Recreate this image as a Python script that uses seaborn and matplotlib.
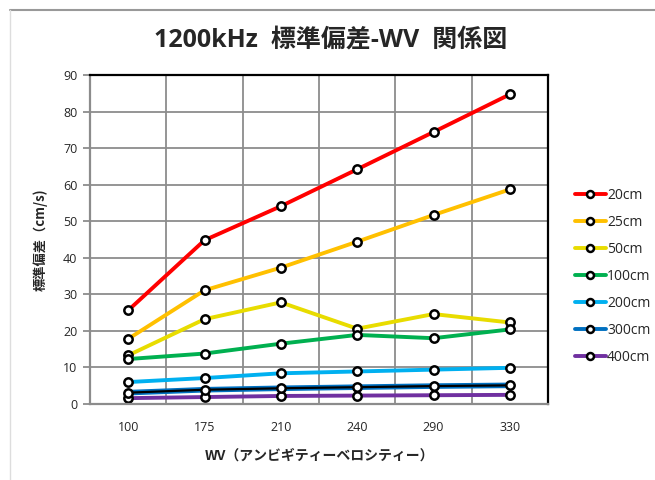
import pandas as pd
import matplotlib.pyplot as plt
from matplotlib.colors import to_rgba
import seaborn as sns

# data
wv = ["100", "175", "210", "240", "290", "330"]
s20 = [25.6, 44.8, 54.1, 64.2, 74.4, 84.7]
s25 = [17.8, 31.1, 37.3, 44.4, 51.7, 58.7]
s50 = [13.3, 23.2, 27.8, 20.6, 24.6, 22.3]
s100 = [12.3, 13.8, 16.5, 18.9, 18.0, 20.4]
s200 = [6.0, 7.1, 8.4, 8.9, 9.4, 9.9]
s300 = [3.1, 3.9, 4.3, 4.6, 4.9, 5.1]
s400 = [1.6, 1.9, 2.2, 2.3, 2.4, 2.5]
series = ["20cm", "25cm", "50cm", "100cm", "200cm", "300cm", "400cm"]
colors = ["#FF0000", "#FFC000", "#E8DC00", "#00B050", "#00B0F0", "#0070C0", "#7030A0"]

rows = []
for name, vals in zip(series, [s20, s25, s50, s100, s200, s300, s400]):
    for x, v in zip(wv, vals):
        rows.append({"WV": x, "std": v, "depth": name})
df = pd.DataFrame(rows)

sns.set_style("white")
plt.rcParams["font.family"] = ["Open Sans", "Noto Sans CJK JP", "DejaVu Sans"]
jp = ["Noto Sans CJK JP", "DejaVu Sans"]

fig = plt.figure(figsize=(6.55, 4.8), dpi=100)
ax = fig.add_axes([90 / 655, 1 - 404 / 480, 458 / 655, 329 / 480])

mk = dict(marker="o", markerfacecolor="white", markeredgecolor="black", markeredgewidth=1.8)
sns.lineplot(data=df, x="WV", y="std", hue="depth", hue_order=series,
             palette=colors, lw=2.8, markersize=6, ax=ax, sort=False, **mk)

# in the plot the 300cm line looks black with a blue rim
blue = to_rgba("#0070C0")
for line in list(ax.lines):
    if len(line.get_xdata()) == len(wv) and to_rgba(line.get_color()) == blue:
        line.set_marker("None")
        line.set_linewidth(4.0)
        z = line.get_zorder()
        ax.plot(range(len(wv)), s300, color="black", lw=1.6, zorder=z + 0.01)
        ax.plot(range(len(wv)), s300, ls="None", markersize=6, zorder=z + 0.02, **mk)

ax.set_xlim(-0.5, 5.5)
ax.set_ylim(0, 90)
ax.set_yticks(range(0, 91, 10))
ax.set_xticks(range(6))
ax.set_xticklabels(wv)
ax.set_xticks([0.5, 1.5, 2.5, 3.5, 4.5], minor=True)
ax.grid(axis="y", which="major", color="#8c8c8c", lw=1.3)
ax.grid(axis="x", which="minor", color="#8c8c8c", lw=1.3)
ax.grid(axis="x", which="major", visible=False)
ax.tick_params(axis="y", which="major", left=True, length=5, color="#8c8c8c",
               width=1.3, labelsize=9, pad=4)
ax.tick_params(axis="x", which="both", bottom=False, labelsize=9, pad=9)

for side in ["top", "right"]:
    ax.spines[side].set_color("black")
    ax.spines[side].set_linewidth(1.6)
for side in ["left", "bottom"]:
    ax.spines[side].set_color("#8c8c8c")
    ax.spines[side].set_linewidth(1.6)

ax.set_xlabel("WV（アンビギティーベロシティー）", fontsize=10, fontweight="bold",
              family=jp, labelpad=10)
ax.set_ylabel("標準偏差（cm/s)", fontsize=9.5, fontweight="bold", family=jp, labelpad=11)

fig.text(0.505, 1 - 40 / 480, "1200kHz  標準偏差-WV  関係図", ha="center", va="center",
         fontsize=18, fontweight="bold", family=["Open Sans", "Noto Sans CJK JP"])

h, l = ax.get_legend_handles_labels()
for hd, c in zip(h, colors):
    hd.set_color(c)
    hd.set_marker("o")
    hd.set_markersize(5)
    hd.set_markerfacecolor("white")
    hd.set_markeredgecolor("black")
    hd.set_markeredgewidth(1.8)
    hd.set_linewidth(2.8)
ax.legend(h, l, loc="upper left", bbox_to_anchor=(568 / 655, 1 - 181 / 480),
          bbox_transform=fig.transFigure, frameon=False, fontsize=10,
          handlelength=2.2, handletextpad=0.1, labelspacing=0.86, borderpad=0)

# outer chart frame (only top and left show in the crop)
fig.add_artist(plt.Line2D([10 / 655, 1], [1 - 10 / 480] * 2, color="#999999", lw=1.5,
                          transform=fig.transFigure))
fig.add_artist(plt.Line2D([10 / 655] * 2, [0, 1 - 10 / 480], color="#dddddd", lw=1,
                          transform=fig.transFigure))

fig.savefig("out.png", dpi=100)
